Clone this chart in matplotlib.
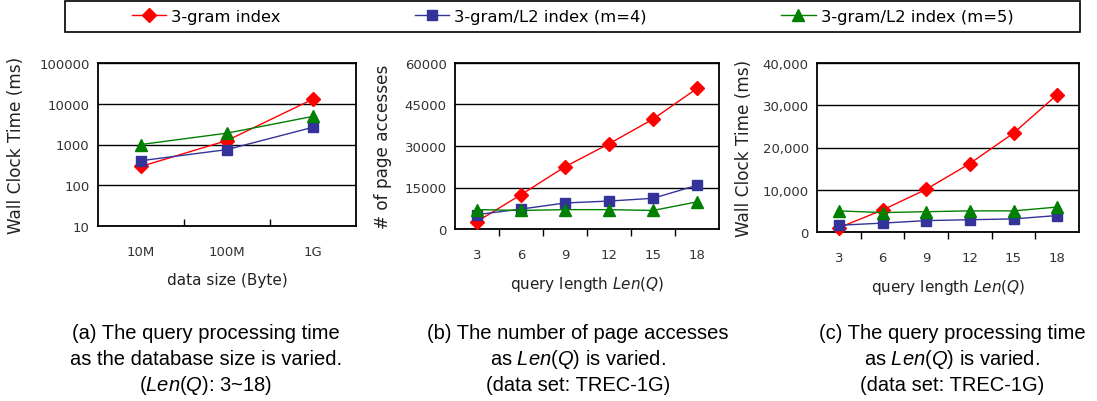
import numpy as np
import matplotlib
matplotlib.use('Agg')
import matplotlib.pyplot as plt
from matplotlib.patches import Rectangle
from matplotlib.ticker import FuncFormatter, FixedLocator

plt.rcParams['font.family'] = ['DejaVu Sans']
plt.rcParams['mathtext.fontset'] = 'custom'
plt.rcParams['mathtext.rm'] = 'Liberation Sans'
plt.rcParams['mathtext.it'] = 'Liberation Sans:italic'

# data
series_names = ['3-gram index', '3-gram/L2 index (m=4)', '3-gram/L2 index (m=5)']

size_labels = ['10M', '100M', '1G']
time_by_size_3gram = [290, 1250, 13000]
time_by_size_m4 = [400, 750, 2650]
time_by_size_m5 = [1000, 1900, 4900]

len_q = [3, 6, 9, 12, 15, 18]
pages_3gram = [2700, 12400, 22500, 30800, 39700, 50800]
pages_m4 = [5200, 7200, 9400, 10100, 11100, 15800]
pages_m5 = [7000, 6700, 7000, 7000, 6700, 9800]

time_by_len_3gram = [1000, 5200, 10100, 16200, 23400, 32500]
time_by_len_m4 = [1600, 2100, 2700, 2900, 3100, 3900]
time_by_len_m5 = [5000, 4600, 4800, 5000, 5000, 5900]

captions = [
    ['(a) The query processing time', 'as the database size is varied.',
     '($\\mathit{Len(Q)}$: 3~18)'],
    ['(b) The number of page accesses', 'as $\\mathit{Len(Q)}$ is varied.',
     '(data set: TREC-1G)'],
    ['(c) The query processing time', 'as $\\mathit{Len(Q)}$ is varied.',
     '(data set: TREC-1G)'],
]

colors = ['#ff0000', '#333399', '#008000']
markers = ['D', 's', '^']
msizes = [7, 6.5, 8]

fig = plt.figure(figsize=(10.97, 4.02), dpi=100)

W, H = 1097, 402
def box(l, t, r, b):
    return [l / W, 1 - b / H, (r - l) / W, (b - t) / H]

ax_a = fig.add_axes(box(98, 64, 356, 227))
ax_b = fig.add_axes(box(455, 64, 719, 230))
ax_c = fig.add_axes(box(817, 64, 1079, 233))


def draw(ax, ys):
    lines = []
    x = np.arange(len(ys[0]))
    for y, c, m, ms in zip(ys, colors, markers, msizes):
        ln, = ax.plot(x, y, color=c, marker=m, markersize=ms, lw=1,
                      markeredgecolor=c, clip_on=False, zorder=3)
        lines.append(ln)
    ax.set_xlim(-0.5, len(x) - 0.5)
    ax.xaxis.set_major_locator(FixedLocator(x))
    ax.xaxis.set_minor_locator(FixedLocator(np.arange(0.5, len(x) - 1, 1)))
    ax.tick_params(axis='x', which='major', length=0, pad=14, labelsize=9.5,
                   labelcolor='#333333')
    ax.tick_params(axis='x', which='minor', length=5, width=1, direction='out')
    ax.tick_params(axis='y', length=0, pad=6, labelsize=9.5, labelcolor='#333333')
    for s in ax.spines.values():
        s.set_linewidth(1.3)
    ax.grid(True, axis='y', color='black', lw=1)
    ax.set_axisbelow(True)
    return lines


# (a)
lines = draw(ax_a, [time_by_size_3gram, time_by_size_m4, time_by_size_m5])
ax_a.set_yscale('log')
ax_a.set_ylim(10, 100000)
ax_a.yaxis.set_major_locator(FixedLocator([10, 100, 1000, 10000, 100000]))
ax_a.yaxis.set_minor_locator(FixedLocator([]))
ax_a.yaxis.set_major_formatter(FuncFormatter(lambda v, p: '%d' % v))
ax_a.set_xticklabels(size_labels)
ax_a.tick_params(axis='x', which='minor', direction='in')
ax_a.set_ylabel('Wall Clock Time (ms)', fontsize=12.2, color='#222222', labelpad=10)
ax_a.set_xlabel('data size (Byte)', fontsize=11, color='#222222', labelpad=10)

# (b)
draw(ax_b, [pages_3gram, pages_m4, pages_m5])
ax_b.set_ylim(0, 60000)
ax_b.yaxis.set_major_locator(FixedLocator([0, 15000, 30000, 45000, 60000]))
ax_b.set_xticklabels([str(v) for v in len_q])
ax_b.set_ylabel('# of page accesses', fontsize=12.2, color='#222222', labelpad=9)
ax_b.set_xlabel('query length $\\mathit{Len(Q)}$', fontsize=11, color='#222222',
                labelpad=9, math_fontfamily='dejavusans')

# (c)
draw(ax_c, [time_by_len_3gram, time_by_len_m4, time_by_len_m5])
ax_c.set_ylim(0, 40000)
ax_c.yaxis.set_major_locator(FixedLocator([0, 10000, 20000, 30000, 40000]))
ax_c.yaxis.set_major_formatter(FuncFormatter(lambda v, p: '{:,.0f}'.format(v)))
ax_c.set_xticklabels([str(v) for v in len_q])
ax_c.set_ylabel('Wall Clock Time (ms)', fontsize=12.2, color='#222222', labelpad=7)
ax_c.set_xlabel('query length $\\mathit{Len(Q)}$', fontsize=11, color='#222222',
                labelpad=9, math_fontfamily='dejavusans')

# captions
for cx, cap in zip([206, 578, 952], captions):
    for yy, txt in zip([339, 365, 391], cap):
        fig.text(cx / W, 1 - yy / H, txt, ha='center', va='baseline',
                 fontsize=14.5, family='Liberation Sans')

# legend
fig.patches.append(Rectangle((65 / W, 1 - 33 / H), (1080 - 65) / W, 31 / H,
                             transform=fig.transFigure, fill=False,
                             edgecolor='black', lw=1.2))
leg = fig.legend(lines, series_names, loc='center', ncol=3,
                 bbox_to_anchor=(572.5 / W, 1 - 17.5 / H),
                 frameon=False, fontsize=11.8, handlelength=2.1,
                 handletextpad=0.3, columnspacing=8.2, borderaxespad=0)

fig.savefig('out.png', dpi=100)
